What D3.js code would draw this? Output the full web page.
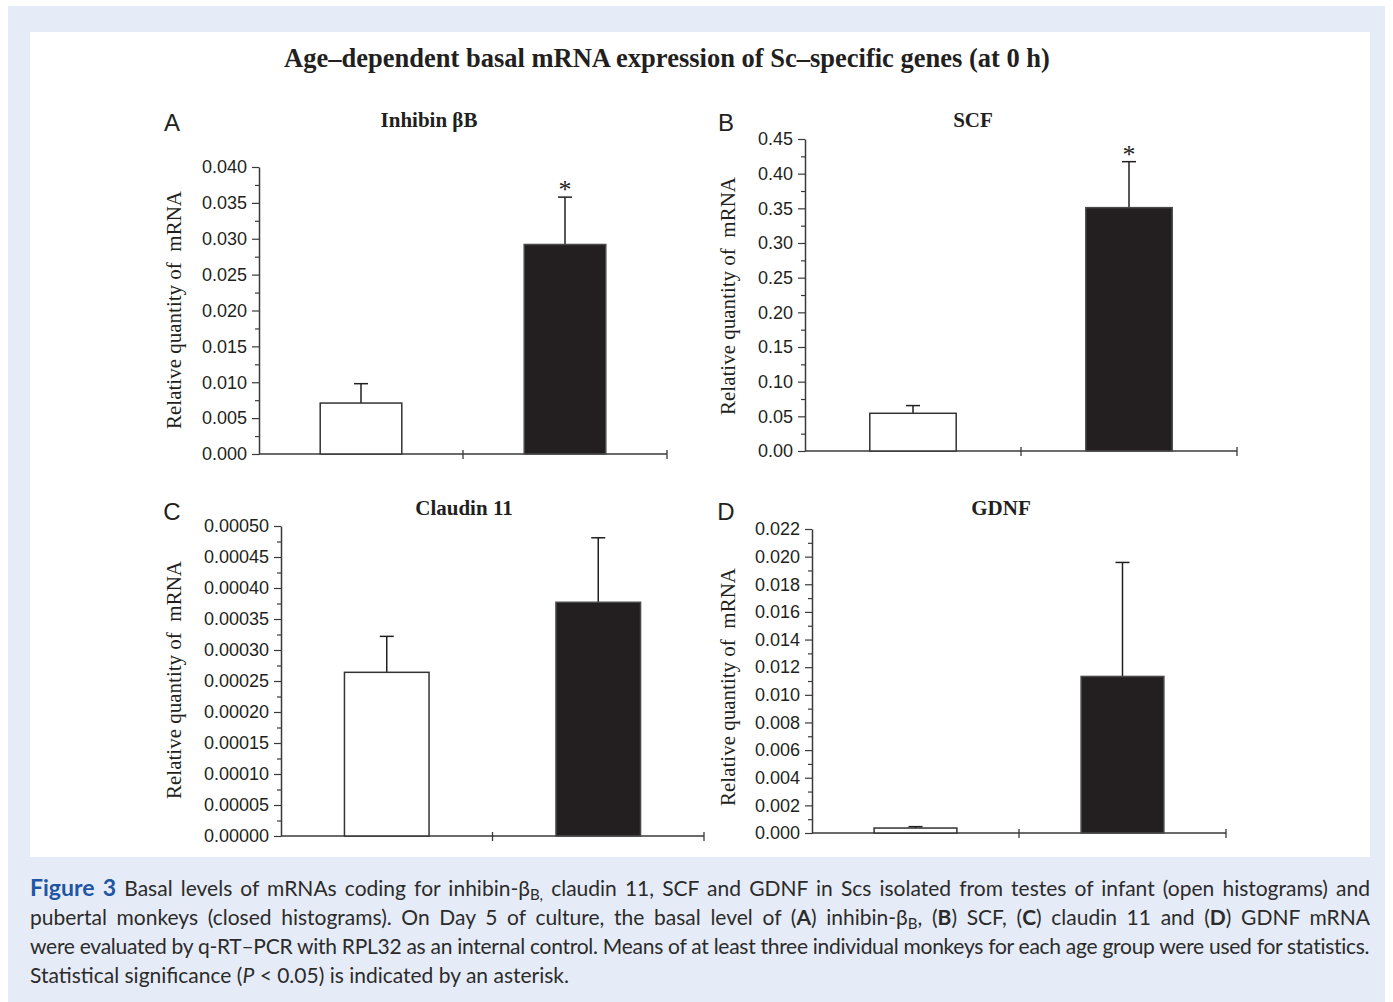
<!DOCTYPE html>
<html>
<head>
<meta charset="utf-8">
<script src="https://cdn.jsdelivr.net/npm/d3@7"></script>
<style>
  html, body { margin: 0; padding: 0; background: #ffffff; }
  svg { display: block; }
</style>
</head>
<body>
<svg id="chart" width="1393" height="1002"></svg>
<script>
// ---------------- DATA ----------------
const groups = ["Infant", "Pubertal"];
const panelLetters = ["A", "B", "C", "D"];
const panelTitles = ["Inhibin βB", "SCF", "Claudin 11", "GDNF"];

const inhibinMeans = [0.0071, 0.0292];
const inhibinErrors = [0.0027, 0.0066];
const scfMeans = [0.0544, 0.351];
const scfErrors = [0.0111, 0.0663];
const claudinMeans = [0.000264, 0.000377];
const claudinErrors = [0.000058, 0.000104];
const gdnfMeans = [0.00036, 0.01133];
const gdnfErrors = [0.0001, 0.00825];

const significance = [[false, true], [false, true], [false, false], [false, false]];

const yMaxValues = [0.040, 0.45, 0.00050, 0.022];
const yTickSteps = [0.005, 0.05, 0.00005, 0.002];
const yTickDecimals = [3, 2, 5, 3];

const mainTitle = "Age–dependent basal mRNA expression of Sc–specific genes (at 0 h)";
const yAxisLabel = "Relative quantity of  mRNA";

// ---------------- LAYOUT ----------------
const layout = [
  { x0: 259, x1: 667, yTop: 167, yBot: 454, letter: [172, 131], title: [429, 127], yl: [181, 310] },
  { x0: 805, x1: 1237, yTop: 139, yBot: 451, letter: [726, 131], title: [973, 127], yl: [735, 296] },
  { x0: 281, x1: 704, yTop: 526, yBot: 836, letter: [172, 520], title: [464, 515], yl: [181, 680] },
  { x0: 812, x1: 1226, yTop: 529, yBot: 833, letter: [726, 520], title: [1001, 515], yl: [735, 687] }
];
const meansList = [inhibinMeans, scfMeans, claudinMeans, gdnfMeans];
const errorsList = [inhibinErrors, scfErrors, claudinErrors, gdnfErrors];

const svg = d3.select("#chart");

// backgrounds
svg.append("rect").attr("x", 8).attr("y", 6).attr("width", 1377).attr("height", 996).attr("fill", "#e6ecf7");
svg.append("rect").attr("x", 30).attr("y", 32).attr("width", 1340).attr("height", 825).attr("fill", "#ffffff");

// main title
svg.append("text")
  .attr("x", 667).attr("y", 67)
  .attr("text-anchor", "middle")
  .attr("font-family", "'Liberation Serif', 'Times New Roman', serif")
  .attr("font-weight", "bold")
  .attr("font-size", 26.5)
  .attr("fill", "#231f20")
  .text(mainTitle);

const axisColor = "#3a3a3a";

panelTitles.forEach((title, i) => {
  const L = layout[i];
  const g = svg.append("g");
  const means = meansList[i];
  const errs = errorsList[i];

  const y = d3.scaleLinear().domain([0, yMaxValues[i]]).range([L.yBot, L.yTop]);
  const x = d3.scaleBand().domain(groups).range([L.x0, L.x1]).paddingInner(0.6).paddingOuter(0.3);

  const nMajor = Math.round(yMaxValues[i] / yTickSteps[i]);
  const majorTicks = d3.range(0, nMajor + 1).map(k => k * yTickSteps[i]);
  const minorTicks = d3.range(0, nMajor).map(k => (k + 0.5) * yTickSteps[i]);

  // minor ticks
  const minorAxis = d3.axisLeft(y).tickValues(minorTicks).tickSize(4).tickFormat("");
  const gm = g.append("g").attr("transform", `translate(${L.x0},0)`).call(minorAxis);
  gm.select(".domain").remove();
  gm.selectAll(".tick line").attr("stroke", axisColor).attr("stroke-width", 1.2);

  // major axis
  const majorAxis = d3.axisLeft(y).tickValues(majorTicks).tickSize(7).tickSizeOuter(0).tickPadding(5)
    .tickFormat(d3.format("." + yTickDecimals[i] + "f"));
  const ga = g.append("g").attr("transform", `translate(${L.x0},0)`).call(majorAxis);
  ga.select(".domain").attr("stroke", axisColor).attr("stroke-width", 1.5);
  ga.selectAll(".tick line").attr("stroke", axisColor).attr("stroke-width", 1.2);
  ga.selectAll(".tick text")
    .attr("font-family", "'Liberation Sans', Arial, sans-serif")
    .attr("font-size", 18)
    .attr("fill", "#231f20");

  // x axis line and ticks at band boundaries
  g.append("line")
    .attr("x1", L.x0).attr("x2", L.x1)
    .attr("y1", y(0)).attr("y2", y(0))
    .attr("stroke", axisColor).attr("stroke-width", 1.5);
  const midX = (L.x0 + L.x1) / 2;
  [midX, L.x1].forEach(tx => {
    g.append("line")
      .attr("x1", tx).attr("x2", tx)
      .attr("y1", y(0) - 4).attr("y2", y(0) + 5)
      .attr("stroke", axisColor).attr("stroke-width", 1.3);
  });

  // bars
  groups.forEach((grp, j) => {
    const bx = x(grp);
    const bw = x.bandwidth();
    const cx = bx + bw / 2;
    g.append("line")
      .attr("x1", cx).attr("x2", cx)
      .attr("y1", y(means[j])).attr("y2", y(means[j] + errs[j]))
      .attr("stroke", "#231f20").attr("stroke-width", 1.5);
    g.append("line")
      .attr("x1", cx - 7).attr("x2", cx + 7)
      .attr("y1", y(means[j] + errs[j])).attr("y2", y(means[j] + errs[j]))
      .attr("stroke", "#231f20").attr("stroke-width", 1.5);
    g.append("rect")
      .attr("x", bx).attr("width", bw)
      .attr("y", y(means[j])).attr("height", y(0) - y(means[j]))
      .attr("fill", j === 0 ? "#ffffff" : "#231f20")
      .attr("stroke", j === 0 ? "#333333" : "#4a4a4a")
      .attr("stroke-width", 1.5);
    if (significance[i][j]) {
      g.append("text")
        .attr("x", cx).attr("y", y(means[j] + errs[j]) + 1)
        .attr("text-anchor", "middle")
        .attr("font-family", "'Liberation Serif', 'Times New Roman', serif")
        .attr("font-size", 26)
        .attr("fill", "#231f20")
        .text("*");
    }
  });

  // panel letter
  g.append("text")
    .attr("x", L.letter[0]).attr("y", L.letter[1])
    .attr("text-anchor", "middle")
    .attr("font-family", "'Liberation Sans', Arial, sans-serif")
    .attr("font-size", 24)
    .attr("fill", "#231f20")
    .text(panelLetters[i]);

  // panel title
  g.append("text")
    .attr("x", L.title[0]).attr("y", L.title[1])
    .attr("text-anchor", "middle")
    .attr("font-family", "'Liberation Serif', 'Times New Roman', serif")
    .attr("font-weight", "bold")
    .attr("font-size", 21)
    .attr("fill", "#231f20")
    .text(title);

  // y axis label
  g.append("text")
    .attr("transform", `translate(${L.yl[0]},${L.yl[1]}) rotate(-90)`)
    .attr("text-anchor", "middle")
    .attr("font-family", "'Liberation Serif', 'Times New Roman', serif")
    .attr("font-size", 21)
    .attr("fill", "#231f20")
    .style("white-space", "pre")
    .text(yAxisLabel);
});

// ---------------- CAPTION ----------------
const captionLines = [
  [
    { t: "Figure 3", bold: true, blue: true },
    { t: " Basal levels of mRNAs coding for inhibin-β" },
    { t: "B,", sub: true },
    { t: " claudin 11, SCF and GDNF in Scs isolated from testes of infant (open histograms) and" }
  ],
  [
    { t: "pubertal monkeys (closed histograms). On Day 5 of culture, the basal level of (" },
    { t: "A", bold: true }, { t: ") inhibin-β" }, { t: "B", sub: true },
    { t: ", (" }, { t: "B", bold: true }, { t: ") SCF, (" }, { t: "C", bold: true },
    { t: ") claudin 11 and (" }, { t: "D", bold: true }, { t: ") GDNF mRNA" }
  ],
  [
    { t: "were evaluated by q-RT–PCR with RPL32 as an internal control. Means of at least three individual monkeys for each age group were used for statistics." }
  ],
  [
    { t: "Statistical significance (" }, { t: "P", italic: true }, { t: " < 0.05) is indicated by an asterisk." }
  ]
];
const justify = [true, true, true, false];
const capX = 30, capW = 1340;
const capBaselines = [896, 925, 954, 983];

captionLines.forEach((parts, li) => {
  const txt = svg.append("text")
    .attr("x", capX).attr("y", capBaselines[li])
    .attr("font-family", "Lato, 'Open Sans', sans-serif")
    .attr("font-size", 21)
    .attr("fill", "#2b2b2b")
    .style("white-space", "pre");
  parts.forEach((p, k) => {
    const ts = txt.append("tspan").text(p.t);
    if (p.bold) ts.attr("font-weight", "bold");
    if (p.blue) ts.attr("fill", "#1f55a5").attr("font-size", 23);
    if (p.italic) ts.attr("font-style", "italic");
    if (p.sub) ts.attr("font-size", 15).attr("dy", 4);
    const prev = k > 0 ? parts[k - 1] : null;
    if (prev && prev.sub && !p.sub) ts.attr("dy", -4);
  });
  if (justify[li]) {
    const w = txt.node().getComputedTextLength();
    const full = parts.map(p => p.t).join("");
    const nSpaces = (full.match(/ /g) || []).length;
    const extra = capW - w;
    if (extra >= 0) {
      txt.attr("word-spacing", extra / nSpaces);
    } else {
      txt.attr("letter-spacing", extra / full.length);
    }
  }
});
</script>
</body>
</html>
